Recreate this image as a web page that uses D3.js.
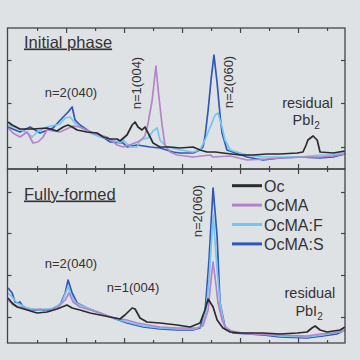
<!DOCTYPE html>
<html lang="en">
<head>
  <meta charset="UTF-8">
  <title>XRD Initial vs Fully-formed</title>
  <script src="https://d3js.org/d3.v7.min.js"></script>
  <style>
    body {
      margin: 0;
      background: #dfe2e4;
      font-family: 'Liberation Sans', Arial, sans-serif;
    }
    svg { display: block; }
    .frame { fill: none; stroke: #444; stroke-width: 1.3; }
    .tick line { stroke: #444; stroke-width: 1.2; }
    .trace { fill: none; stroke-width: 1.7; stroke-linejoin: round; }
    .ann { fill: #333; font-size: 13px; }
    .title { fill: #333; font-size: 16.5px; text-decoration: underline; }
    .legend text { fill: #333; font-size: 16px; }
  </style>
</head>
<body>
  <svg width="360" height="360"></svg>

  <script>
    // series names + colours
    const seriesNames = ["Oc", "OcMA", "OcMA:F", "OcMA:S"];
    const seriesColors = ["#2b2b2b", "#b583c9", "#74c5ef", "#2f57b5"];

    // x ticks (2theta, deg)
    const xMajor = [4, 6, 8, 10, 12];
    const xMinor = [3, 5, 7, 9, 11, 13];
    // y ticks (intensity, a.u.)
    const topYTicks = [22, 66, 109];
    const botYTicks = [26, 68, 110, 151];

    // ---- Initial phase : [2theta, intensity]
    const topOc = [[2.00,47],[2.14,44],[2.41,40],[2.86,40],[3.34,41],[3.69,38],[3.90,42],[4.07,44],[4.21,42],[4.38,39],
      [4.72,37],[5.07,36],[5.28,32],[5.52,30],[5.76,30],[5.86,28],[6.10,34],[6.28,44],[6.38,47],[6.48,42],[6.62,39],
      [6.72,42],[6.83,36],[7.00,26],[7.24,22],[7.59,22],[7.93,21],[8.38,22],[8.62,19],[8.86,17],[9.14,17],[9.41,16],
      [10.00,14],[10.45,14],[10.93,15],[11.38,15],[11.97,16],[12.17,17],[12.28,24],[12.34,29],[12.52,33],[12.66,29],
      [12.76,17],[13.21,16],[13.62,18]];
    const topOcMA = [[2.00,41],[2.17,36],[2.41,32],[2.66,37],[2.86,26],[3.03,27],[3.21,32],[3.34,39],[3.79,37],[4.24,43],
      [4.48,42],[4.93,36],[5.41,32],[5.76,24],[5.97,22],[6.28,25],[6.55,28],[6.72,33],[6.83,46],[6.97,69],[7.10,103],
      [7.17,81],[7.31,44],[7.41,24],[7.59,17],[7.83,14],[8.38,12],[8.97,14],[9.07,12],[9.66,13],[10.24,9],[10.93,10],
      [11.38,11],[12.31,12],[12.76,12],[13.21,13],[13.62,15]];
    const topOcMAF = [[2.00,44],[2.31,41],[2.66,36],[2.83,32],[3.00,37],[3.34,42],[3.79,45],[3.97,51],[4.14,52],[4.31,46],
      [4.48,42],[4.83,36],[5.17,32],[5.62,29],[5.86,26],[5.97,29],[6.21,22],[6.45,22],[6.55,29],[6.83,31],[7.00,38],
      [7.14,41],[7.24,29],[7.48,22],[7.93,19],[8.38,17],[8.62,19],[8.79,29],[8.93,39],[9.14,54],[9.24,56],[9.38,42],
      [9.48,29],[9.66,19],[10.24,14],[10.79,12],[11.38,12],[12.07,12],[12.76,14],[13.21,14],[13.62,17]];
    const topOcMAS = [[2.00,42],[2.41,37],[2.76,42],[3.10,36],[3.55,41],[3.90,52],[4.07,57],[4.21,62],[4.31,49],[4.48,44],
      [4.83,37],[5.17,34],[5.52,27],[5.97,26],[6.10,22],[6.45,24],[6.90,22],[7.24,21],[7.69,17],[7.93,16],[8.38,16],
      [8.62,19],[8.72,22],[8.79,32],[8.90,59],[9.00,89],[9.10,114],[9.21,86],[9.31,54],[9.38,36],[9.55,19],[10.24,12],
      [10.79,9],[11.38,11],[12.07,12],[12.76,11],[13.21,12],[13.62,15]];

    // ---- Fully-formed : [2theta, intensity]
    const botOc = [[2.00,45],[2.14,40],[2.31,36],[2.66,33],[3.00,30],[3.34,31],[3.69,34],[3.86,36],[4.03,38],[4.21,35],
      [4.48,33],[4.83,30],[5.17,28],[5.52,26],[5.86,24],[6.03,28],[6.28,35],[6.38,34],[6.55,25],[6.79,21],[7.24,20],
      [7.83,18],[8.28,16],[8.62,20],[8.79,33],[8.90,44],[9.07,36],[9.21,23],[9.41,15],[9.66,11],[10.00,10],[10.79,10],
      [11.38,9],[11.97,10],[12.31,11],[12.48,15],[12.59,17],[12.76,13],[13.00,11],[13.45,13],[13.62,16]];
    const botOcMA = [[2.00,43],[2.17,38],[2.41,36],[2.76,33],[3.10,34],[3.45,33],[3.72,36],[3.97,43],[4.10,50],[4.24,41],
      [4.48,36],[4.83,33],[5.17,30],[5.52,26],[5.86,24],[6.10,23],[6.45,20],[7.24,16],[7.83,15],[8.52,15],[8.72,17],
      [8.90,33],[9.00,63],[9.07,81],[9.17,58],[9.24,40],[9.38,23],[9.55,13],[10.24,9],[11.38,8],[12.31,7],[12.76,9],
      [13.21,10],[13.62,13]];
    const botOcMAF = [[2.00,50],[2.14,46],[2.31,40],[2.66,35],[3.10,33],[3.62,35],[3.86,41],[4.00,51],[4.07,57],[4.17,48],
      [4.34,40],[4.72,35],[5.17,30],[5.62,25],[6.10,21],[6.66,17],[7.24,15],[7.83,14],[8.45,14],[8.69,17],[8.83,33],
      [8.93,63],[9.07,128],[9.21,73],[9.31,40],[9.45,18],[9.66,11],[10.79,9],[11.38,7],[12.31,6],[12.86,8],[13.62,12]];
    const botOcMAS = [[2.00,55],[2.14,50],[2.24,41],[2.34,40],[2.41,41],[2.52,36],[2.86,33],[3.45,33],[3.79,38],[3.97,50],
      [4.07,63],[4.21,50],[4.38,40],[4.72,35],[5.17,30],[5.62,25],[6.10,20],[6.66,16],[7.24,14],[7.83,13],[8.38,13],
      [8.62,15],[8.79,30],[8.93,83],[9.07,155],[9.21,106],[9.31,40],[9.48,16],[9.76,10],[10.79,8],[11.38,6],[12.31,5],
      [12.86,7],[13.34,9],[13.62,13]];

    const svg = d3.select("svg");

    const x = d3.scaleLinear().domain([1.98, 13.62]).range([7.5, 345]);

    const panels = [
      { title: "Initial phase", y: d3.scaleLinear().domain([0, 141]).range([169, 28]), yTicks: topYTicks,
        series: [topOcMAS, topOcMAF, topOcMA, topOc] },
      { title: "Fully-formed", y: d3.scaleLinear().domain([0, 174]).range([343, 169]), yTicks: botYTicks,
        series: [botOcMAS, botOcMAF, botOcMA, botOc] }
    ];
    // drawn order: S, F, MA, Oc (Oc on top)
    const drawColors = [seriesColors[3], seriesColors[2], seriesColors[1], seriesColors[0]];

    panels.forEach(p => {
      const g = svg.append("g");
      const [y0, y1] = p.y.range();

      // ticks on all four sides, pointing in
      const addAxis = (axis, tf) => {
        const a = g.append("g").attr("transform", tf).call(axis);
        a.select(".domain").remove();
      };
      addAxis(d3.axisBottom(x).tickValues(xMajor).tickSize(-5).tickFormat(""), `translate(0,${y0})`);
      addAxis(d3.axisBottom(x).tickValues(xMinor).tickSize(-3).tickFormat(""), `translate(0,${y0})`);
      addAxis(d3.axisTop(x).tickValues(xMajor).tickSize(-5).tickFormat(""), `translate(0,${y1})`);
      addAxis(d3.axisTop(x).tickValues(xMinor).tickSize(-3).tickFormat(""), `translate(0,${y1})`);
      addAxis(d3.axisLeft(p.y).tickValues(p.yTicks).tickSize(-4).tickFormat(""), `translate(${x.range()[0]},0)`);
      addAxis(d3.axisRight(p.y).tickValues(p.yTicks).tickSize(-4).tickFormat(""), `translate(${x.range()[1]},0)`);

      const line = d3.line().x(d => x(d[0])).y(d => p.y(d[1]));
      g.selectAll("path.trace")
        .data(p.series)
        .join("path")
        .attr("class", "trace")
        .attr("stroke", (d, i) => drawColors[i])
        .attr("d", line);

      g.append("rect")
        .attr("class", "frame")
        .attr("x", x.range()[0])
        .attr("y", y1)
        .attr("width", x.range()[1] - x.range()[0])
        .attr("height", y0 - y1);
    });

    const yT = panels[0].y, yB = panels[1].y;

    // titles
    svg.append("text").attr("class", "title").attr("x", 24).attr("y", 47.5).text("Initial phase");
    svg.append("text").attr("class", "title").attr("x", 24).attr("y", 199.5).text("Fully-formed");

    // peak labels
    function label(text, px, py, rotate) {
      const t = svg.append("text").attr("class", "ann").attr("text-anchor", "middle")
        .attr("transform", `translate(${px},${py})` + (rotate ? " rotate(-90)" : ""))
        .text(text);
      return t;
    }
    function pbi2(cx, py) {
      const t = svg.append("text").attr("class", "ann").attr("text-anchor", "middle")
        .attr("x", cx).attr("y", py).style("font-size", "14.5px");
      t.append("tspan").text("PbI");
      t.append("tspan").attr("dy", 4).style("font-size", "10px").text("2");
    }

    label("n=2(040)", x(4.17), yT(72), false);
    label("n=1(004)", x(6.59), yT(86), true);
    label("n=2(060)", x(9.76), yT(87), true);
    label("residual", x(12.33), yT(61), false).style("font-size", "14.5px");
    pbi2(x(12.28), yT(44));

    label("n=2(040)", x(4.17), yB(75), false);
    label("n=1(004)", x(6.31), yB(51), false);
    label("n=2(060)", x(8.69), yB(132), true);
    label("residual", x(12.41), yB(45), false).style("font-size", "14.5px");
    pbi2(x(12.38), yB(27));

    // legend
    const legend = svg.append("g").attr("class", "legend");
    seriesNames.forEach((name, i) => {
      const ly = 185.7 + i * 19.4;
      legend.append("line")
        .attr("x1", 232).attr("x2", 262).attr("y1", ly).attr("y2", ly)
        .attr("stroke", seriesColors[i]).attr("stroke-width", 3);
      legend.append("text").attr("x", 264).attr("y", ly + 6).text(name);
    });
  </script>
</body>
</html>
